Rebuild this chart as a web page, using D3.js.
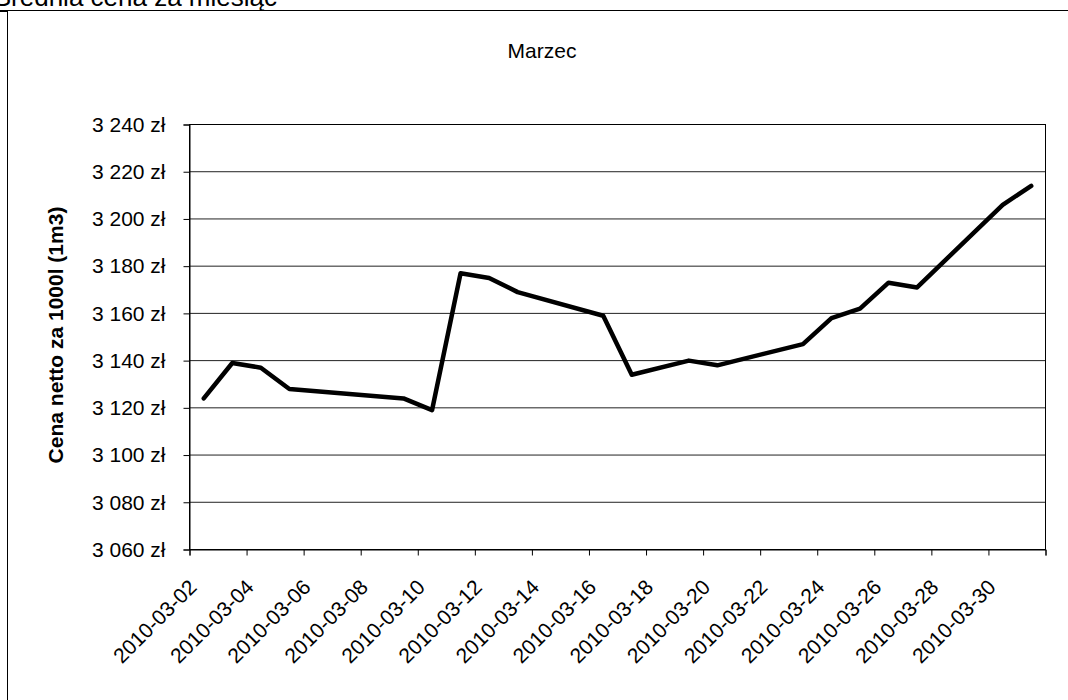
<!DOCTYPE html>
<html>
<head>
<meta charset="utf-8">
<script src="https://cdn.jsdelivr.net/npm/d3@7"></script>
<style>
  html, body { margin: 0; padding: 0; background: #fff; }
  svg { display: block; font-family: "Liberation Sans", Arial, sans-serif; }
</style>
</head>
<body>
<svg id="chart" width="1068" height="700"></svg>
<script>
// ---- data ----
const dates = ["2010-03-02","2010-03-03","2010-03-04","2010-03-05","2010-03-09","2010-03-10",
  "2010-03-11","2010-03-12","2010-03-13","2010-03-16","2010-03-17","2010-03-19","2010-03-20",
  "2010-03-23","2010-03-24","2010-03-25","2010-03-26","2010-03-27","2010-03-30","2010-03-31"];
const prices = [3124,3139,3137,3128,3124,3119,3177,3175,3169,3159,3134,3140,3138,
  3147,3158,3162,3173,3171,3206,3214];
const xTickLabels = ["2010-03-02","2010-03-04","2010-03-06","2010-03-08","2010-03-10",
  "2010-03-12","2010-03-14","2010-03-16","2010-03-18","2010-03-20","2010-03-22",
  "2010-03-24","2010-03-26","2010-03-28","2010-03-30"];
const xDomain = ["2010-03-02","2010-04-01"];
const yTicks = [3060,3080,3100,3120,3140,3160,3180,3200,3220,3240];
const pageTitle = "Średnia cena za miesiąc";
const chartTitle = "Marzec";
const yTitle = "Cena netto za 1000l (1m3)";

// ---- layout ----
const parse = d3.utcParse("%Y-%m-%d");
const L = 189.5, R = 1045.5, T = 124.5, B = 549.5;
const svg = d3.select("#chart");

const x = d3.scaleUtc().domain(xDomain.map(parse)).range([L, R]);
const y = d3.scaleLinear().domain([3060, 3240]).range([B, T]);

// page heading (partly cut off at top, as in the original)
svg.append("text").attr("x", 277).attr("y", 6).attr("text-anchor", "end")
  .attr("font-size", 26).attr("fill", "#000").text(pageTitle);

// outer frame (cropped chart area)
svg.append("rect").attr("x", 7.5).attr("y", 10.5).attr("width", 1070).attr("height", 700)
  .attr("fill", "#fff").attr("stroke", "#000").attr("stroke-width", 1);
svg.append("line").attr("x1", 0).attr("x2", 8).attr("y1", 10.5).attr("y2", 10.5)
  .attr("stroke", "#000").attr("stroke-width", 1);
svg.append("rect").attr("x", 0).attr("y", 10).attr("width", 7).attr("height", 2).attr("fill", "#000");

// chart title
svg.append("text").attr("x", 542).attr("y", 58).attr("text-anchor", "middle")
  .attr("font-size", 21).attr("fill", "#000").text(chartTitle);

// gridlines
svg.append("g").selectAll("line").data(yTicks).join("line")
  .attr("x1", L).attr("x2", R)
  .attr("y1", d => y(d)).attr("y2", d => y(d))
  .attr("stroke", "#222").attr("stroke-width", 1);

// plot border
svg.append("rect").attr("x", L).attr("y", T).attr("width", R - L).attr("height", B - T)
  .attr("fill", "none").attr("stroke", "#000").attr("stroke-width", 1);

// y axis
const fmt = v => `${Math.floor(v / 1000)} ${String(v % 1000).padStart(3, "0")} zł`;
const yAxis = svg.append("g").attr("transform", `translate(${L},0)`)
  .call(d3.axisLeft(y).tickValues(yTicks).tickSize(6).tickPadding(18).tickFormat(fmt));
yAxis.select(".domain").attr("stroke", "#000");
yAxis.selectAll(".tick line").attr("stroke", "#000");
yAxis.selectAll(".tick text").attr("font-size", 21).attr("fill", "#000")
  .attr("font-family", "Liberation Sans, Arial, sans-serif");

// x axis
const xTickDates = xTickLabels.map(parse).concat([parse(xDomain[1])]);
const xAxis = svg.append("g").attr("transform", `translate(0,${B})`)
  .call(d3.axisBottom(x).tickValues(xTickDates).tickSize(6)
    .tickFormat((d, i) => i < xTickLabels.length ? xTickLabels[i] : ""));
xAxis.select(".domain").attr("stroke", "#000");
xAxis.selectAll(".tick line").attr("stroke", "#000");
xAxis.selectAll(".tick text")
  .attr("font-size", 21).attr("fill", "#000")
  .attr("font-family", "Liberation Sans, Arial, sans-serif")
  .attr("text-anchor", "end").attr("x", 0).attr("y", 0).attr("dy", 0)
  .attr("transform", "translate(8,39) rotate(-45)");

// y axis title
svg.append("text").attr("transform", "translate(63,335) rotate(-90)")
  .attr("text-anchor", "middle").attr("font-size", 21).attr("font-weight", "bold")
  .attr("fill", "#000").text(yTitle);

// line (points at the middle of each day slot)
const pts = dates.map((d, i) => ({ t: d3.utcHour.offset(parse(d), 12), v: prices[i] }));
const line = d3.line().x(d => x(d.t)).y(d => y(d.v));
svg.append("path").datum(pts).attr("d", line)
  .attr("fill", "none").attr("stroke", "#000").attr("stroke-width", 4.5)
  .attr("stroke-linejoin", "round").attr("stroke-linecap", "round");
</script>
</body>
</html>
